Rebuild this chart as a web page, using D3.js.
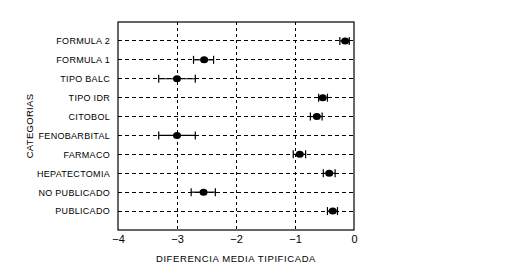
<!DOCTYPE html>
<html>
<head>
<meta charset="utf-8">
<script src="https://cdn.jsdelivr.net/npm/d3@7"></script>
<style>
  body { margin: 0; background: #fff; }
  svg text { font-family: "Liberation Sans", Arial, sans-serif; fill: #000; }
</style>
</head>
<body>
<div id="chart"></div>
<script>
'use strict';

// ── Data ────────────────────────────────────────────────────
const categories = ['FORMULA 2', 'FORMULA 1', 'TIPO BALC', 'TIPO IDR', 'CITOBOL',
                    'FENOBARBITAL', 'FARMACO', 'HEPATECTOMIA', 'NO PUBLICADO', 'PUBLICADO'];
const means = [-0.15, -2.54, -3.00, -0.53, -0.63, -3.00, -0.92, -0.42, -2.55, -0.36];
const lower = [-0.24, -2.72, -3.31, -0.60, -0.74, -3.31, -1.03, -0.52, -2.76, -0.45];
const upper = [-0.08, -2.38, -2.69, -0.45, -0.54, -2.69, -0.82, -0.32, -2.35, -0.28];
const xTicks = [-4, -3, -2, -1, 0];
const gridTicks = [-3, -2, -1];

const rows = categories.map((name, i) => ({
    name, mean: means[i], lo: lower[i], hi: upper[i], pos: i + 1
}));

// ── Layout ──────────────────────────────────────────────────
const totalW = 530, totalH = 277;
const margin = { top: 22, right: 176, bottom: 47, left: 118 };
const W = totalW - margin.left - margin.right;
const H = totalH - margin.top - margin.bottom;

const svg = d3.select('#chart').append('svg')
    .attr('width', totalW)
    .attr('height', totalH);

const chart = svg.append('g')
    .attr('transform', `translate(${margin.left},${margin.top})`);

// ── Scales ──────────────────────────────────────────────────
const x = d3.scaleLinear().domain([-4, 0]).range([0, W]);
const y = d3.scaleLinear().domain([0, categories.length + 1]).range([0, H]);

// ── Grid lines ──────────────────────────────────────────────
chart.selectAll('line.hgrid')
    .data(rows)
    .join('line')
    .attr('class', 'hgrid')
    .attr('x1', 0).attr('x2', W)
    .attr('y1', d => y(d.pos)).attr('y2', d => y(d.pos))
    .attr('stroke', '#000')
    .attr('stroke-width', 1)
    .attr('stroke-dasharray', '4,3')
    .attr('shape-rendering', 'crispEdges');

chart.selectAll('line.vgrid')
    .data(gridTicks)
    .join('line')
    .attr('class', 'vgrid')
    .attr('x1', d => x(d)).attr('x2', d => x(d))
    .attr('y1', 0).attr('y2', H)
    .attr('stroke', '#000')
    .attr('stroke-width', 1)
    .attr('stroke-dasharray', '3,3')
    .attr('shape-rendering', 'crispEdges');

// ── Frame ───────────────────────────────────────────────────
chart.append('rect')
    .attr('width', W).attr('height', H)
    .attr('fill', 'none')
    .attr('stroke', '#000')
    .attr('stroke-width', 1.2);

// ── Axes (labels only, no tick marks) ───────────────────────
const xAxis = chart.append('g')
    .attr('transform', `translate(0,${H})`)
    .call(d3.axisBottom(x).tickValues(xTicks).tickFormat(d3.format('d'))
        .tickSize(0).tickPadding(5));
xAxis.select('.domain').remove();
xAxis.selectAll('text')
    .attr('font-size', 11)
    .attr('font-family', '"Liberation Sans", Arial, sans-serif');

const yAxis = chart.append('g')
    .call(d3.axisLeft(y)
        .tickValues(rows.map(d => d.pos))
        .tickFormat((d, i) => categories[i])
        .tickSize(0).tickPadding(8));
yAxis.select('.domain').remove();
yAxis.selectAll('text')
    .attr('font-size', 9)
    .attr('letter-spacing', 0.3)
    .attr('font-family', '"Liberation Sans", Arial, sans-serif');

// ── Error bars ──────────────────────────────────────────────
const capH = 4;
const bars = chart.selectAll('g.err')
    .data(rows)
    .join('g')
    .attr('class', 'err');

bars.append('line')
    .attr('x1', d => x(d.lo)).attr('x2', d => x(d.hi))
    .attr('y1', d => y(d.pos)).attr('y2', d => y(d.pos))
    .attr('stroke', '#000').attr('stroke-width', 1.2);

bars.append('line')
    .attr('x1', d => x(d.lo)).attr('x2', d => x(d.lo))
    .attr('y1', d => y(d.pos) - capH).attr('y2', d => y(d.pos) + capH)
    .attr('stroke', '#000').attr('stroke-width', 1.2);

bars.append('line')
    .attr('x1', d => x(d.hi)).attr('x2', d => x(d.hi))
    .attr('y1', d => y(d.pos) - capH).attr('y2', d => y(d.pos) + capH)
    .attr('stroke', '#000').attr('stroke-width', 1.2);

bars.append('ellipse')
    .attr('cx', d => x(d.mean))
    .attr('cy', d => y(d.pos))
    .attr('rx', 4).attr('ry', 3.5)
    .attr('fill', '#000');

// ── Axis titles ─────────────────────────────────────────────
svg.append('text')
    .attr('x', margin.left + W / 2)
    .attr('y', margin.top + H + 32)
    .attr('text-anchor', 'middle')
    .attr('font-size', 9.5)
    .attr('letter-spacing', 0.6)
    .text('DIFERENCIA MEDIA TIPIFICADA');

svg.append('text')
    .attr('transform', `translate(33,${margin.top + H / 2}) rotate(-90)`)
    .attr('text-anchor', 'middle')
    .attr('font-size', 9.5)
    .attr('letter-spacing', 0.3)
    .text('CATEGORIAS');
</script>
</body>
</html>
